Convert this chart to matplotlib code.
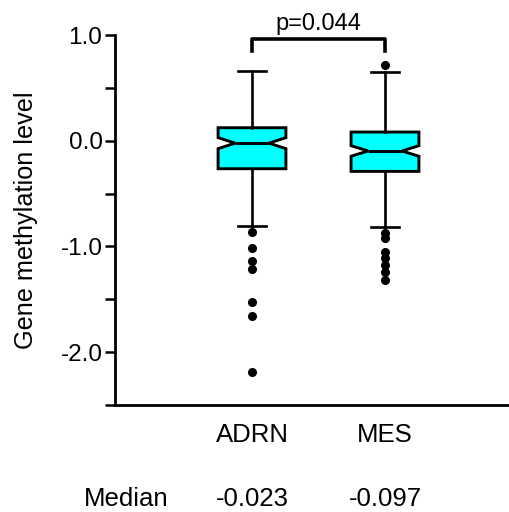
import matplotlib
matplotlib.use("Agg")
import matplotlib.pyplot as plt
import matplotlib.transforms as mtransforms
from matplotlib.ticker import MultipleLocator, FormatStrFormatter

plt.rcParams['font.family'] = ['Liberation Sans', 'DejaVu Sans']

groups = ["ADRN", "MES"]
medians = [-0.023, -0.097]
q1 = [-0.265, -0.29]
q3 = [0.123, 0.082]
whislo = [-0.806, -0.815]
whishi = [0.657, 0.647]
notch_lo = [-0.075, -0.147]
notch_hi = [0.029, -0.047]
outliers = [
    [-0.866, -1.017, -1.134, -1.216, -1.523, -1.659, -2.186],
    [0.72, -0.872, -0.92, -1.052, -1.109, -1.175, -1.242, -1.318],
]
p_text = "p=0.044"

fig = plt.figure(figsize=(5.09, 5.12), dpi=100)
ax = fig.add_axes([115/509, 107/512, 420/509, 370/512])

stats = []
for i, g in enumerate(groups):
    stats.append(dict(label=g, med=medians[i], q1=q1[i], q3=q3[i],
                      whislo=whislo[i], whishi=whishi[i],
                      cilo=notch_lo[i], cihi=notch_hi[i], fliers=outliers[i]))

positions = [1, 2]
ax.bxp(stats, positions=positions, widths=0.51, shownotches=True,
       patch_artist=True, capwidths=0.21,
       boxprops=dict(facecolor='#00FFFF', edgecolor='black', linewidth=2.1),
       medianprops=dict(color='black', linewidth=2.1),
       whiskerprops=dict(color='black', linewidth=1.9),
       capprops=dict(color='black', linewidth=1.9),
       flierprops=dict(marker='o', markerfacecolor='black', markeredgecolor='black',
                       markersize=5.5, linestyle='none'))

# 133 px per unit, axis starts at x=115 px
ax.set_xlim(1 - 137/133, 1 - 137/133 + 420/133)
ax.set_ylim(-2.5, 1.0)

for s in ['top', 'right']:
    ax.spines[s].set_visible(False)
ax.spines['left'].set_linewidth(2.0)
ax.spines['bottom'].set_linewidth(2.0)

ax.yaxis.set_major_locator(MultipleLocator(1.0))
ax.yaxis.set_minor_locator(MultipleLocator(0.5))
ax.yaxis.set_major_formatter(FormatStrFormatter('%.1f'))
ax.tick_params(axis='y', which='both', direction='out', length=7, width=1.8, labelsize=17.5, pad=2)
ax.tick_params(axis='x', which='both', bottom=False, labelbottom=False)
ax.set_ylabel("Gene methylation level", fontsize=18.2, labelpad=16)

# significance bracket
ax.plot([positions[0], positions[0], positions[1], positions[1]], [0.85, 0.96, 0.96, 0.85],
        color='black', linewidth=2.6, solid_joinstyle='round', clip_on=False)
ax.text((positions[0] + positions[1]) / 2, 1.0, p_text, ha='center', va='bottom', fontsize=17)

lab_tr = mtransforms.blended_transform_factory(ax.transData, fig.transFigure)
for i, g in enumerate(groups):
    ax.text(positions[i], 1 - 435/512, g, transform=lab_tr, ha='center', va='center', fontsize=18.5)
    ax.text(positions[i], 1 - 499/512, "%.3f" % medians[i], transform=lab_tr, ha='center', va='center', fontsize=18.5)
fig.text(126/509, 1 - 499/512, "Median", ha='center', va='center', fontsize=18.5)

fig.savefig("out.png", dpi=100)
